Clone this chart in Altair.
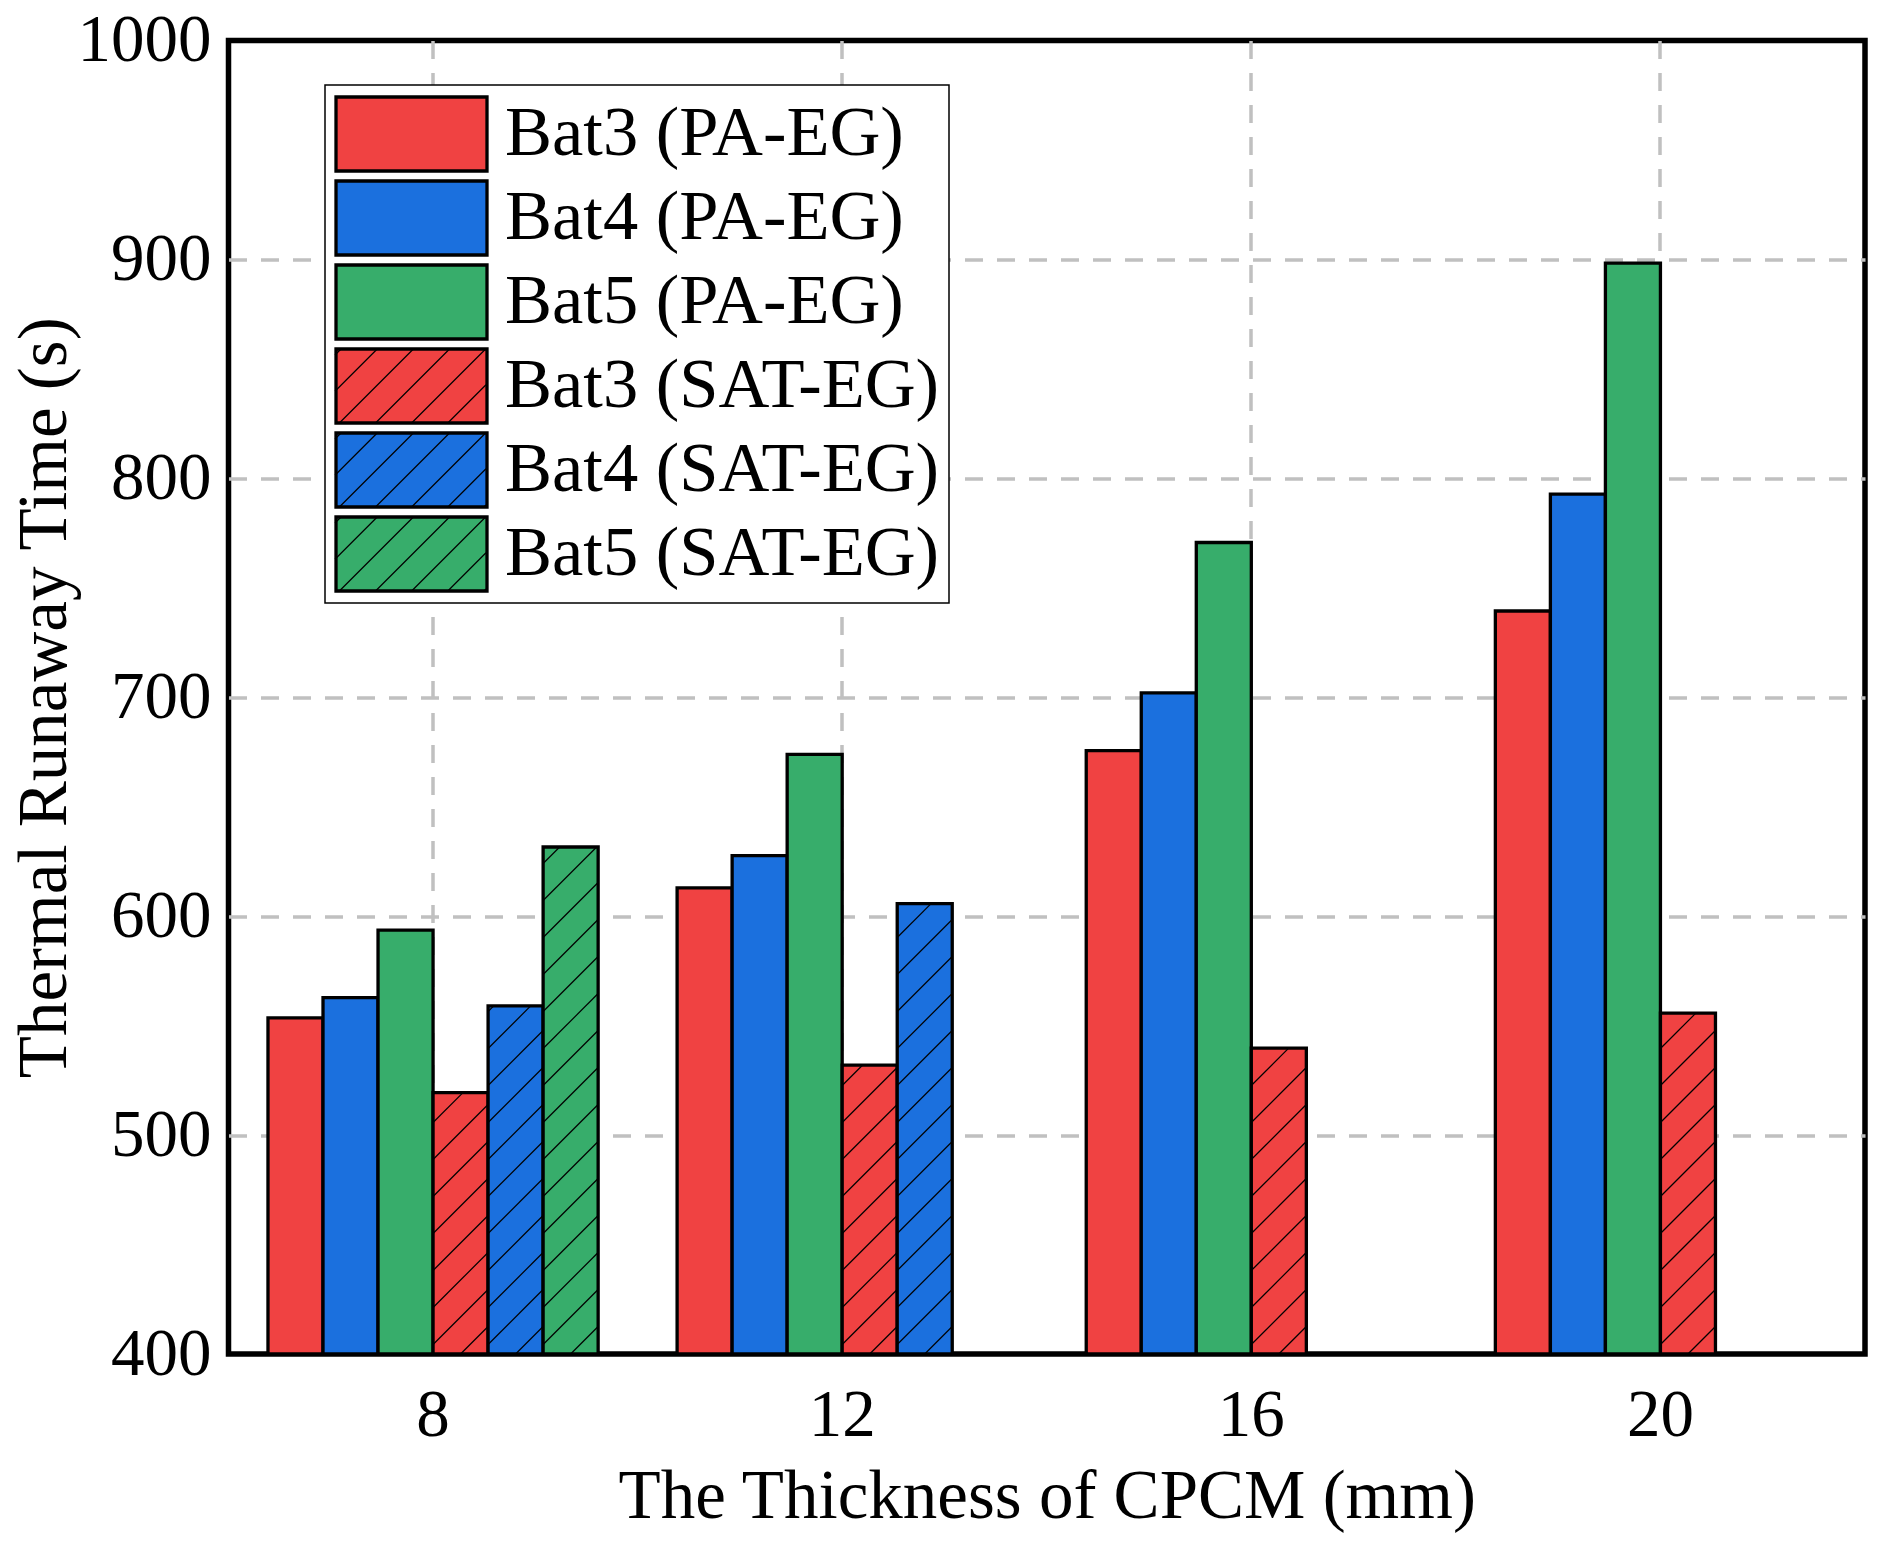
import altair as alt
import pandas as pd

# ---------------- data ----------------
thickness = ["8", "12", "16", "20"]
series = ["Bat3 (PA-EG)", "Bat4 (PA-EG)", "Bat5 (PA-EG)",
          "Bat3 (SAT-EG)", "Bat4 (SAT-EG)", "Bat5 (SAT-EG)"]
colors = ["#F04242", "#1B70DE", "#37AD6B", "#F04242", "#1B70DE", "#37AD6B"]
hatched = [False, False, False, True, True, True]

bat3_pa = [553.5, 612.9, 675.6, 739.4]
bat4_pa = [562.8, 627.7, 702.0, 792.8]
bat5_pa = [593.6, 673.9, 770.7, 898.3]
bat3_sat = [519.4, 532.0, 539.7, 555.7]
bat4_sat = [559.0, 605.7, None, None]
bat5_sat = [631.6, None, None, None]
values = [bat3_pa, bat4_pa, bat5_pa, bat3_sat, bat4_sat, bat5_sat]

y_ticks = [400, 500, 600, 700, 800, 900, 1000]

rows = []
for s, vals in zip(series, values):
    for t, v in zip(thickness, vals):
        if v is not None:
            rows.append({"thk": t, "series": s, "series_h": s, "value": v})
df = pd.DataFrame(rows)

# ---------------- hatch decoration (style) ----------------
HATCH_PITCH = 16.9   # vertical spacing of hatch lines, in axis units
HATCH_HALF = 12.45   # half the vertical extent of one 45-degree line, in axis units
base = y_ticks[0]
hrows = []
for s, vals, h in zip(series, values, hatched):
    if not h:
        continue
    for t, v in zip(thickness, vals):
        if v is None:
            continue
        k = -1
        while True:
            c = base + k * HATCH_PITCH
            k += 1
            if c - HATCH_HALF >= v:
                break
            if c + HATCH_HALF <= base:
                continue
            a = max(-1.0, (base - c) / HATCH_HALF)
            b = min(1.0, (v - c) / HATCH_HALF)
            path = f"M{a:.3f},{-a:.3f}L{b:.3f},{-b:.3f}"
            hrows.append({"thk": t, "series": s, "value": c, "path": path})
hdf = pd.DataFrame(hrows)

# legend symbol shapes
HH = 0.49
RECT = f"M-1,{-HH}H1V{HH}H-1Z"


def legend_hatch():
    segs = []
    for c in [-1.41, -0.931, -0.452, 0.027, 0.505, 0.984, 1.463]:
        if c - HH >= -1:
            x0, y0 = c - HH, HH
        else:
            x0, y0 = -1, c + 1
        if c + HH <= 1:
            x1, y1 = c + HH, -HH
        else:
            x1, y1 = 1, c - 1
        segs.append(f"M{x0:.3f},{y0:.3f}L{x1:.3f},{y1:.3f}")
    return "".join(segs)


HATCH_PATH = legend_hatch()
legend_shapes = [HATCH_PATH if h else "M0,0" for h in hatched]

# ---------------- chart ----------------
FONT = "Liberation Serif"
W, H = 1636.5, 1313.5
TXT = 69
LEG_TXT = 70.5

xscale = alt.Scale(domain=thickness, paddingInner=0.193, paddingOuter=0.0965)
yscale = alt.Scale(domain=[400, 1000], zero=False, nice=False)
offscale = alt.Scale(domain=series, paddingInner=0, paddingOuter=0)

xaxis = alt.Axis(title="The Thickness of CPCM (mm)", labelAngle=0, ticks=False, tickSize=0,
                 domain=False, grid=True, bandPosition=0.5, labelPadding=81,
                 labelBaseline="alphabetic", titleX=W / 2, titleY=163,
                 titleBaseline="alphabetic", titleAlign="center")
yaxis = alt.Axis(title="Thermal Runaway Time (s)", values=y_ticks, format="d", ticks=False,
                 tickSize=0, domain=False, grid=True, labelPadding=17.5,
                 gridOpacity={"condition": {"test": "datum.value <= 400 || datum.value >= 1000",
                                            "value": 0}, "value": 1},
                 titleX=-163.5, titleY=H / 2,
                 titleAngle=270, titleBaseline="alphabetic", titleAlign="center")

common_legend = dict(orient="none", legendX=96.5, legendY=44.5, padding=9, title=None,
                     symbolSize=22801, clipHeight=80, rowPadding=4, labelOffset=16,
                     labelLimit=0, direction="vertical", labelFontSize=LEG_TXT)

bars = alt.Chart(df).mark_bar(stroke="black", strokeWidth=3.3).encode(
    x=alt.X("thk:N", sort=thickness, scale=xscale, axis=xaxis),
    xOffset=alt.XOffset("series:N", sort=series, scale=offscale),
    y=alt.Y("value:Q", scale=yscale, axis=yaxis),
    y2=alt.datum(y_ticks[0]),
    fill=alt.Fill("series:N", scale=alt.Scale(domain=series, range=colors),
                  legend=alt.Legend(symbolType=RECT, symbolStrokeColor="black",
                                    symbolStrokeWidth=3.3, symbolOpacity=1,
                                    fillColor="white", strokeColor="black",
                                    **common_legend)),
)

hatch = alt.Chart(hdf).mark_point(filled=False, color="black", strokeWidth=1.2,
                                  size=2970, opacity=1).encode(
    x=alt.X("thk:N", sort=thickness, scale=xscale, axis=xaxis),
    xOffset=alt.XOffset("series:N", sort=series, scale=offscale),
    y=alt.Y("value:Q", scale=yscale, axis=yaxis),
    shape=alt.Shape("path:N", scale=None, legend=None),
)

leg = alt.Chart(df).mark_point(filled=False, color="black", opacity=0).encode(
    x=alt.X("thk:N", sort=thickness, scale=xscale, axis=xaxis),
    xOffset=alt.XOffset("series:N", sort=series, scale=offscale),
    y=alt.Y("value:Q", scale=yscale, axis=yaxis),
    shape=alt.Shape("series_h:N", scale=alt.Scale(domain=series, range=legend_shapes),
                    legend=alt.Legend(symbolStrokeColor="black", symbolStrokeWidth=1.2,
                                      symbolFillColor="transparent", symbolOpacity=1,
                                      labelOpacity=0, **common_legend)),
)

chart = alt.layer(bars, hatch, leg).resolve_scale(shape="independent").properties(
    width=W, height=H,
    padding={"left": 220.5, "top": 32.5, "right": 8, "bottom": 182},
    autosize=alt.AutoSizeParams(type="none"),
    background="white",
).configure_view(
    stroke="black", strokeWidth=5.5
).configure_axis(
    labelFont=FONT, titleFont=FONT, labelFontSize=67, titleFontSize=TXT,
    labelColor="black", titleColor="black", titleFontWeight="normal",
    gridColor="#c0c0c0", gridDash=[18, 14], gridWidth=3.5,
).configure_legend(
    labelFont=FONT, labelFontSize=LEG_TXT, labelColor="black", strokeWidth=1.5,
)

chart.save("out.html", embed_options={"renderer": "svg", "actions": False})
